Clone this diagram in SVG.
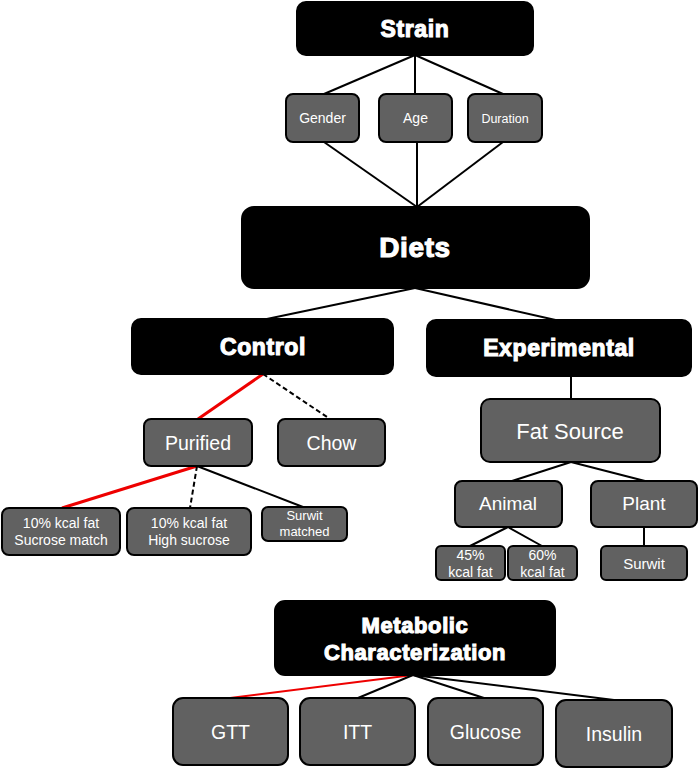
<svg xmlns="http://www.w3.org/2000/svg" width="700" height="769" viewBox="0 0 700 769">
<style>
.blk{fill:#000;stroke:#000;stroke-width:2}
.gry{fill:#616161;stroke:#000;stroke-width:2}
.t{fill:#fff;font-family:"Liberation Sans",Arial,sans-serif;text-anchor:middle}
.b{font-weight:bold;stroke:#fff;stroke-width:1.1;letter-spacing:0.6px}
.ln{stroke:#000;stroke-width:2;fill:none}
.red{stroke:#e00;stroke-width:3;fill:none}
.dash{stroke:#000;stroke-width:2;stroke-dasharray:5,3;fill:none}
</style>
<rect width="700" height="769" fill="#fff"/>
<g id="connectors">
<line class="ln" x1="415" y1="55" x2="324" y2="94"/>
<line class="ln" x1="415" y1="55" x2="415" y2="94"/>
<line class="ln" x1="415" y1="55" x2="503" y2="94"/>
<line class="ln" x1="324" y1="142" x2="417" y2="207"/>
<line class="ln" x1="417" y1="142" x2="417" y2="207"/>
<line class="ln" x1="503" y1="142" x2="417" y2="207"/>
<line class="ln" x1="415" y1="288" x2="262" y2="320"/>
<line class="ln" x1="415" y1="288" x2="560" y2="321"/>
<line class="red" x1="263" y1="374" x2="198" y2="419"/>
<line class="dash" x1="263" y1="374" x2="330" y2="419"/>
<line class="red" x1="197" y1="466" x2="62" y2="508"/>
<line class="dash" x1="197" y1="466" x2="190" y2="508"/>
<line class="ln" x1="197" y1="466" x2="303" y2="507"/>
<line class="ln" x1="571" y1="376" x2="571" y2="399"/>
<line class="ln" x1="571" y1="462" x2="512" y2="481"/>
<line class="ln" x1="571" y1="462" x2="645" y2="481"/>
<line class="ln" x1="508" y1="527" x2="470" y2="546"/>
<line class="ln" x1="508" y1="527" x2="542" y2="546"/>
<line class="ln" x1="644" y1="527" x2="644" y2="546"/>
<line class="red" style="stroke-width:2" x1="413" y1="675" x2="230" y2="698"/>
<line class="ln" x1="413" y1="675" x2="358" y2="698"/>
<line class="ln" x1="413" y1="675" x2="484" y2="698"/>
<line class="ln" x1="413" y1="675" x2="614" y2="700"/>
</g>
<g id="strain"><rect class="blk" x="297" y="2" width="236" height="53" rx="9"/><text class="t b" x="415" y="37" font-size="23">Strain</text></g>
<g id="gender"><rect class="gry" x="286" y="94" width="73" height="48" rx="7"/><text class="t" x="322.5" y="123" font-size="14">Gender</text></g>
<g id="age"><rect class="gry" x="379" y="94" width="73" height="48" rx="7"/><text class="t" x="415.5" y="123" font-size="14">Age</text></g>
<g id="duration"><rect class="gry" x="468" y="94" width="74" height="48" rx="7"/><text class="t" x="505" y="123" font-size="12.5">Duration</text></g>
<g id="diets"><rect class="blk" x="242" y="207" width="347" height="81" rx="12"/><text class="t b" x="415" y="257" font-size="28">Diets</text></g>
<g id="control"><rect class="blk" x="132" y="319" width="261" height="55" rx="9"/><text class="t b" x="263" y="355" font-size="23">Control</text></g>
<g id="experimental"><rect class="blk" x="427" y="320" width="264" height="56" rx="9"/><text class="t b" x="559" y="356" font-size="23">Experimental</text></g>
<g id="purified"><rect class="gry" x="144" y="419" width="108" height="47" rx="7"/><text class="t" x="198" y="450" font-size="19.5">Purified</text></g>
<g id="chow"><rect class="gry" x="278" y="419" width="107" height="47" rx="7"/><text class="t" x="331.5" y="450" font-size="19.5">Chow</text></g>
<g id="fatsource"><rect class="gry" x="481" y="399" width="179" height="63" rx="9"/><text class="t" x="570" y="439" font-size="22">Fat Source</text></g>
<g id="sucrosematch"><rect class="gry" x="2" y="508" width="118" height="47" rx="7"/><text class="t" font-size="14"><tspan x="61" y="528">10% kcal fat</tspan><tspan x="61" y="545">Sucrose match</tspan></text></g>
<g id="highsucrose"><rect class="gry" x="127" y="508" width="124" height="47" rx="7"/><text class="t" font-size="14"><tspan x="189" y="528">10% kcal fat</tspan><tspan x="189" y="545">High sucrose</tspan></text></g>
<g id="surwitmatched"><rect class="gry" x="262" y="507" width="85" height="34" rx="6"/><text class="t" font-size="13"><tspan x="304.5" y="520">Surwit</tspan><tspan x="304.5" y="536">matched</tspan></text></g>
<g id="animal"><rect class="gry" x="455" y="481" width="107" height="46" rx="7"/><text class="t" x="508" y="510" font-size="19">Animal</text></g>
<g id="plant"><rect class="gry" x="591" y="481" width="106" height="46" rx="7"/><text class="t" x="644" y="510" font-size="19">Plant</text></g>
<g id="fat45"><rect class="gry" x="436" y="546" width="69" height="34" rx="5"/><text class="t" font-size="14"><tspan x="470.5" y="560">45%</tspan><tspan x="470.5" y="577">kcal fat</tspan></text></g>
<g id="fat60"><rect class="gry" x="508" y="546" width="69" height="34" rx="5"/><text class="t" font-size="14"><tspan x="542.5" y="560">60%</tspan><tspan x="542.5" y="577">kcal fat</tspan></text></g>
<g id="surwit"><rect class="gry" x="601" y="546" width="86" height="34" rx="5"/><text class="t" x="644" y="569" font-size="15">Surwit</text></g>
<g id="metabolic"><rect class="blk" x="275" y="601" width="280" height="74" rx="10"/><text class="t b" font-size="22"><tspan x="415" y="633">Metabolic</tspan><tspan x="415" y="660">Characterization</tspan></text></g>
<g id="gtt"><rect class="gry" x="173" y="698" width="115" height="67" rx="10"/><text class="t" x="230.5" y="739" font-size="19.5">GTT</text></g>
<g id="itt"><rect class="gry" x="300" y="698" width="115" height="67" rx="10"/><text class="t" x="357.5" y="739" font-size="19.5">ITT</text></g>
<g id="glucose"><rect class="gry" x="428" y="698" width="115" height="67" rx="10"/><text class="t" x="485.5" y="739" font-size="19.5">Glucose</text></g>
<g id="insulin"><rect class="gry" x="556" y="700" width="116" height="67" rx="10"/><text class="t" x="614" y="741" font-size="19.5">Insulin</text></g>
</svg>
